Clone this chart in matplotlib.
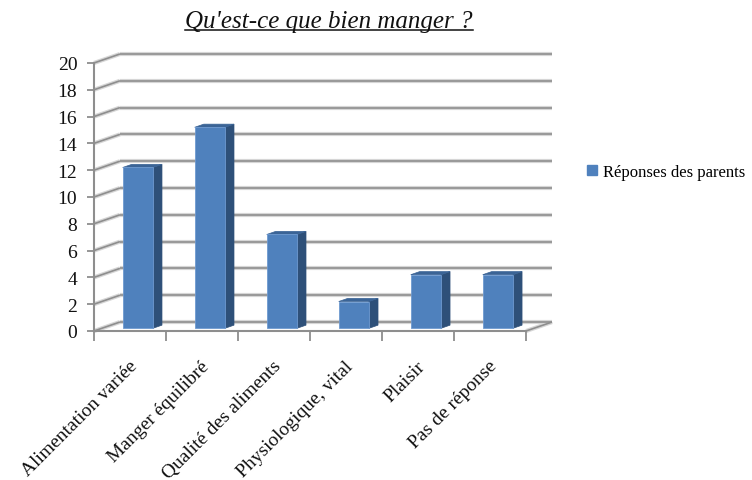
import matplotlib
matplotlib.use("Agg")
import matplotlib.pyplot as plt
from matplotlib.patches import Polygon, Patch
from matplotlib.lines import Line2D

# data
categories = [
    "Alimentation variée",
    "Manger équilibré",
    "Qualité des aliments",
    "Physiologique, vital",
    "Plaisir",
    "Pas de réponse",
]
values = [12, 15, 7, 2, 4, 4]
series_name = "Réponses des parents"
title = "Qu'est-ce que bien manger ?"
y_ticks = list(range(0, 21, 2))

SERIF = ["Liberation Serif", "DejaVu Serif"]
FRONT = "#4f81bd"
SIDE = "#2e5079"
TOP = "#3b6496"
GRID = "#8e8e8e"
GRID_HALO = "#d6d6d6"

# oblique depth offset of the walls (x in categories, y in value units)
DX, DY = 0.36, 0.67

fig = plt.figure(figsize=(7.52, 4.81), dpi=100)
ax = fig.add_axes([94 / 752, 149 / 481, 458 / 752, 277 / 481])
ax.set_xlim(0, len(categories) + DX)
ax.set_ylim(0, max(y_ticks) + DY)


def wall_line(xs, ys, z=1):
    ax.plot(xs, ys, color=GRID_HALO, lw=3.0, solid_capstyle="butt", zorder=z, clip_on=False)
    ax.plot(xs, ys, color=GRID, lw=1.2, solid_capstyle="butt", zorder=z + 0.1, clip_on=False)


n = len(categories)
# back wall gridlines + left wall diagonals
for t in y_ticks:
    wall_line([DX, n + DX], [t + DY, t + DY])
    wall_line([0, DX], [t, t + DY])
# floor right edge
wall_line([n, n + DX], [0, DY])

# front axes
for side in ["top", "right"]:
    ax.spines[side].set_visible(False)
ax.spines["left"].set_bounds(0, max(y_ticks))
ax.spines["bottom"].set_bounds(0, n)
for side in ["left", "bottom"]:
    ax.spines[side].set_color(GRID)
    ax.spines[side].set_linewidth(1.5)
ax.set_yticks(y_ticks)
ax.set_yticklabels([str(t) for t in y_ticks], fontfamily=SERIF, fontsize=14, color="#111111")
ax.tick_params(axis="y", direction="out", length=5, width=1.3, color=GRID, pad=7)
ax.set_xticks(range(n + 1))
ax.set_xticklabels([])
ax.tick_params(axis="x", direction="out", length=7, width=1.3, color=GRID)
ax.patch.set_visible(False)

# 3d bars
t0, depth, a, w = 0.3, 0.35, 0.29, 0.42
for i, v in enumerate(values):
    xl = i + a + t0 * DX
    yb = t0 * DY
    ddx, ddy = depth * DX, depth * DY
    front = [(xl, yb), (xl + w, yb), (xl + w, yb + v), (xl, yb + v)]
    side = [(xl + w, yb), (xl + w + ddx, yb + ddy), (xl + w + ddx, yb + ddy + v), (xl + w, yb + v)]
    top = [(xl, yb + v), (xl + w, yb + v), (xl + w + ddx, yb + v + ddy), (xl + ddx, yb + v + ddy)]
    ax.add_patch(Polygon(side, closed=True, fc=SIDE, ec=SIDE, lw=0.5, zorder=5))
    ax.add_patch(Polygon(top, closed=True, fc=TOP, ec=TOP, lw=0.5, zorder=5))
    ax.add_patch(Polygon(front, closed=True, fc=FRONT, ec="#6f9ad0", lw=0.6, zorder=6))

# category labels
for i, lab in enumerate(categories):
    ax.text(i + 0.56, -2.4, lab, rotation=45, rotation_mode="anchor",
            ha="right", va="center", fontfamily=SERIF, fontsize=14, color="#111111",
            clip_on=False)

# legend
fig.legend(handles=[Patch(fc=FRONT, ec=FRONT)], labels=[series_name],
           loc="center left", bbox_to_anchor=(587 / 752, 1 - 173 / 481),
           frameon=False, handlelength=0.6, handleheight=0.6, handletextpad=0.35,
           borderpad=0, borderaxespad=0, prop={"family": SERIF, "size": 12})

# underlined italic title
ttl = fig.text(329 / 752, 1 - 28 / 481, title, ha="center", va="baseline",
               fontfamily=SERIF, fontsize=18, style="italic", color="#111111")
fig.canvas.draw()
bb = ttl.get_window_extent(fig.canvas.get_renderer()).transformed(fig.transFigure.inverted())
uy = 1 - 31 / 481
fig.add_artist(Line2D([bb.x0, bb.x1], [uy, uy], color="#111111", lw=1.1,
                      transform=fig.transFigure))

fig.savefig("out.png", dpi=100)
